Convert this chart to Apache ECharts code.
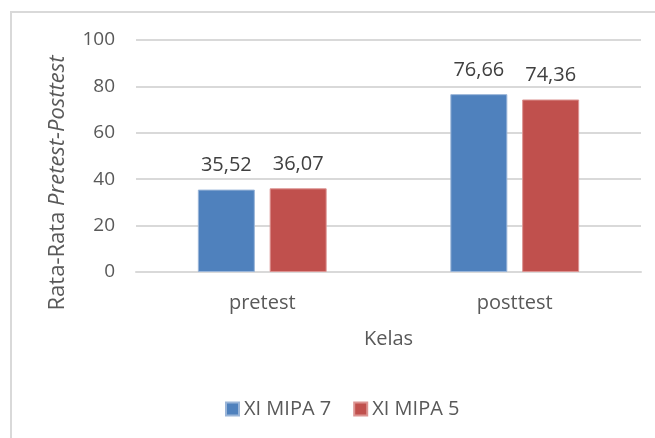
<!DOCTYPE html>
<html>
<head>
<meta charset="utf-8">
<script src="https://cdn.jsdelivr.net/npm/echarts@6/dist/echarts.min.js"></script>
<style>
html,body{margin:0;padding:0;background:#fff;}
#chart{width:655px;height:438px;}
</style>
</head>
<body>
<div id="chart"></div>
<script>
var categories = ['pretest', 'posttest'];
var seriesNames = ['XI MIPA 7', 'XI MIPA 5'];
var mipa7 = [35.52, 76.66];
var mipa5 = [36.07, 74.36];
var yTicks = [0, 20, 40, 60, 80, 100];

var FONT = '"Open Sans", sans-serif';
var TXT = '#595959';

var chart = echarts.init(document.getElementById('chart'), null, {renderer: 'canvas'});

function fmt(v) { return v.toFixed(2).replace('.', ','); }

function barSeries(name, data, color, border) {
  return {
    name: name,
    type: 'bar',
    data: data,
    barWidth: 57,
    barGap: '26%',
    itemStyle: {color: color, borderColor: border, borderWidth: 1},
    label: {
      show: true,
      position: 'top',
      distance: 14,
      color: '#404040',
      fontFamily: FONT,
      fontSize: 20,
      formatter: function (p) { return fmt(p.value); }
    }
  };
}

chart.setOption({
  backgroundColor: '#ffffff',
  animation: false,
  textStyle: {fontFamily: FONT},
  grid: {left: 136, right: 14, top: 40, bottom: 166, containLabel: false},
  legend: {
    data: seriesNames,
    left: 220,
    top: 394,
    icon: 'rect',
    itemWidth: 13,
    itemHeight: 13,
    itemGap: 22,
    textStyle: {color: TXT, fontFamily: FONT, fontSize: 20}
  },
  xAxis: {
    type: 'category',
    data: categories,
    name: 'Kelas',
    nameLocation: 'middle',
    nameGap: 57,
    nameTextStyle: {color: TXT, fontFamily: FONT, fontSize: 20},
    axisLine: {show: true, lineStyle: {color: '#d9d9d9', width: 2}},
    axisTick: {show: false},
    axisLabel: {color: TXT, fontFamily: FONT, fontSize: 20, margin: 21}
  },
  yAxis: {
    type: 'value',
    min: yTicks[0],
    max: yTicks[yTicks.length - 1],
    interval: 20,
    axisLine: {show: false},
    axisTick: {show: false},
    splitLine: {lineStyle: {color: '#d9d9d9', width: 2}},
    axisLabel: {color: TXT, fontFamily: FONT, fontSize: 19, margin: 21}
  },
  graphic: [
    {
      type: 'rect',
      shape: {x: 11, y: 12, width: 700, height: 500},
      style: {fill: 'none', stroke: '#d9d9d9', lineWidth: 2},
      silent: true
    },
    {
      type: 'text',
      x: 58,
      y: 183,
      rotation: Math.PI / 2,
      style: {
        text: '{a|Rata-Rata }{b|Pretest-Posttest}',
        align: 'center',
        verticalAlign: 'middle',
        rich: {
          a: {fontFamily: FONT, fontSize: 22, fill: TXT, color: TXT},
          b: {fontFamily: FONT, fontSize: 22, fontStyle: 'italic', fill: TXT, color: TXT}
        }
      }
    }
  ],
  series: [
    barSeries(seriesNames[0], mipa7, '#4f81bd', '#9ab5d8'),
    barSeries(seriesNames[1], mipa5, '#c0504d', '#dc9492')
  ]
});
</script>
</body>
</html>
